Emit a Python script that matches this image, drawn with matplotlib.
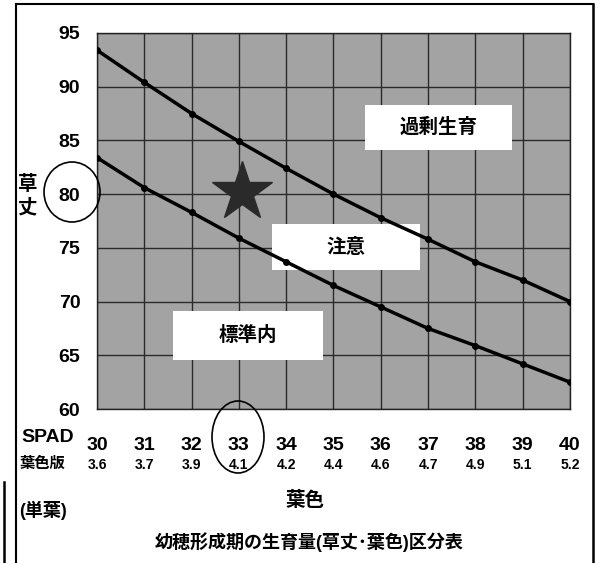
import matplotlib.pyplot as plt
from matplotlib.patches import Rectangle, Ellipse
from matplotlib.lines import Line2D
from matplotlib.transforms import blended_transform_factory

plt.rcParams['font.family'] = ['Liberation Sans', 'Noto Sans CJK JP', 'DejaVu Sans']

# SPAD values on the x axis and the matching leaf colour chart readings
spad_values = [30, 31, 32, 33, 34, 35, 36, 37, 38, 39, 40]
leaf_chart_values = ['3.6', '3.7', '3.9', '4.1', '4.2', '4.4', '4.6', '4.7', '4.9', '5.1', '5.2']

# Plant height boundaries (cm)
upper_boundary = [93.4, 90.4, 87.5, 84.9, 82.4, 80.0, 77.8, 75.8, 73.7, 72.0, 70.0]
lower_boundary = [83.4, 80.6, 78.3, 75.9, 73.7, 71.5, 69.5, 67.5, 65.9, 64.2, 62.5]
height_ticks = [60, 65, 70, 75, 80, 85, 90, 95]

# Zone labels: text, (x0, x1, y0, y1) box in data units
zone_labels = ['過剰生育', '注意', '標準内']
zone_boxes = [(35.67, 38.77, 84.1, 88.3),
              (33.70, 36.83, 72.9, 77.2),
              (31.61, 34.78, 64.6, 69.1)]

# Sample point marked with a star
sample_spad = 33.07
sample_height = 80.2

W, H = 615, 563
fig = plt.figure(figsize=(W / 100, H / 100), dpi=100)
ax = fig.add_axes([0.1577, 0.2735, 0.769, 0.668])

ax.set_facecolor('#a3a3a3')
ax.set_xlim(spad_values[0], spad_values[-1])
ax.set_ylim(height_ticks[0], height_ticks[-1])
ax.set_xticks(spad_values)
ax.set_yticks(height_ticks)
ax.grid(True, color='#2a2a2a', linewidth=1.0)
ax.set_axisbelow(True)
for s in ax.spines.values():
    s.set_color('#222222')
    s.set_linewidth(1.0)

ax.plot(spad_values, upper_boundary, color='black', linewidth=2.5,
        marker='o', markersize=4, zorder=4)
ax.plot(spad_values, lower_boundary, color='black', linewidth=2.5,
        marker='o', markersize=4, zorder=4)

for label, (x0, x1, y0, y1) in zip(zone_labels, zone_boxes):
    ax.add_patch(Rectangle((x0, y0), x1 - x0, y1 - y0, facecolor='white',
                           edgecolor='none', zorder=3))
    ax.text((x0 + x1) / 2, (y0 + y1) / 2, label, ha='center', va='center',
            fontsize=14, fontweight='bold', zorder=5)

ax.plot(sample_spad, sample_height, marker='*', markersize=45,
        color='#2a2a2a', zorder=6)

ax.tick_params(axis='both', length=0, labelsize=14)
ax.tick_params(axis='y', pad=12)
ax.tick_params(axis='x', pad=20)
for lbl in ax.get_xticklabels() + ax.get_yticklabels():
    lbl.set_fontweight('bold')

trans = blended_transform_factory(ax.transData, fig.transFigure)
for x, v in zip(spad_values, leaf_chart_values):
    ax.text(x, 1 - 465 / H, v, transform=trans, ha='center', va='center',
            fontsize=10, fontweight='bold')

# labels outside the plot (figure pixel coordinates, y from top)
def px(x, y):
    return x / W, 1 - y / H

fig.text(*px(21, 437), 'SPAD', ha='left', va='center', fontsize=14, fontweight='bold')
fig.text(*px(20, 464), '葉色版', ha='left', va='center', fontsize=11, fontweight='bold')
fig.text(*px(28, 185), '草', ha='center', va='center', fontsize=14, fontweight='bold')
fig.text(*px(28, 208), '丈', ha='center', va='center', fontsize=14, fontweight='bold')
fig.text(*px(305, 501), '葉色', ha='center', va='center', fontsize=14, fontweight='bold')
fig.text(*px(19, 510), '(単葉)', ha='left', va='center', fontsize=13, fontweight='bold')
fig.text(*px(309, 542), '幼穂形成期の生育量(草丈･葉色)区分表', ha='center', va='center',
         fontsize=13, fontweight='bold')

# scan borders
for xs, ys, lw in [((16, 16), (4, H), 1.5),
                   ((16, 593), (4, 4), 1.5),
                   ((593, 593), (4, H), 1.8),
                   ((4, 4), (482, H), 1.8)]:
    fig.add_artist(Line2D([x / W for x in xs], [1 - y / H for y in ys],
                          transform=fig.transFigure, color='black', linewidth=lw))

# hand-drawn circles
fig.add_artist(Ellipse(px(72, 192), 56 / W, 60 / H, transform=fig.transFigure,
                       facecolor='none', edgecolor='black', linewidth=1.2))
fig.add_artist(Ellipse(px(238, 437), 52 / W, 72 / H, transform=fig.transFigure,
                       facecolor='none', edgecolor='black', linewidth=1.2))

fig.savefig('out.png', dpi=100)
